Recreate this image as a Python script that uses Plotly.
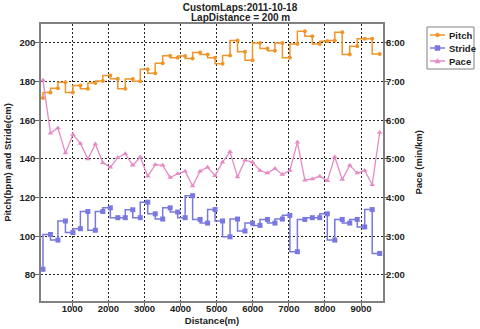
import plotly.graph_objects as go

# Lap end positions along the run (m)
distance_m = [188, 395, 602, 810, 1017, 1224, 1432, 1639, 1846, 2054,
              2261, 2468, 2676, 2883, 3090, 3298, 3505, 3712, 3920, 4127,
              4334, 4541, 4749, 4956, 5163, 5371, 5578, 5785, 5993, 6200,
              6407, 6615, 6822, 7029, 7237, 7444, 7651, 7858, 8066, 8273,
              8480, 8688, 8895, 9102, 9310, 9517]

# Cadence per lap (steps per minute)
pitch_bpm = [171.5, 174.3, 176.5, 179.7, 174.3, 178.0, 176.3, 179.3, 180.3, 183.2,
             181.5, 176.3, 181.4, 180.2, 186.4, 184.3, 189.5, 193.4, 192.3, 193.3,
             192.0, 195.0, 194.0, 192.3, 189.2, 193.5, 201.2, 195.4, 191.1, 200.0,
             197.1, 196.0, 200.0, 192.3, 199.5, 206.0, 203.4, 199.5, 200.9, 201.2,
             205.5, 194.0, 198.3, 202.2, 202.2, 194.3]

# Stride length per lap (cm)
stride_cm = [82.9, 100.9, 98.0, 107.9, 101.9, 103.9, 112.8, 103.1, 112.8, 114.7,
             109.6, 109.6, 113.7, 109.6, 117.6, 111.6, 108.9, 114.7, 112.5, 109.6,
             121.0, 108.7, 106.8, 113.8, 107.9, 99.7, 108.9, 102.7, 106.8, 105.6,
             108.7, 106.8, 108.9, 110.8, 92.0, 108.7, 109.6, 109.6, 111.6, 98.0,
             108.7, 106.8, 108.7, 104.8, 113.8, 91.1]

# Pace per lap (seconds per km)
pace_sec = [422, 340, 348, 309, 338, 324, 300, 323, 294, 287,
            302, 308, 290, 303, 273, 291, 290, 271, 277, 281,
            258, 281, 287, 274, 295, 311, 272, 298, 295, 282,
            278, 285, 276, 282, 326, 267, 269, 273, 266, 303,
            268, 290, 278, 282, 260, 341]

left_ticks = [80, 100, 120, 140, 160, 180, 200]
pace_ticks = [120, 180, 240, 300, 360, 420, 480]
pace_labels = ["2:00", "3:00", "4:00", "5:00", "6:00", "7:00", "8:00"]
x_ticks = [1000, 2000, 3000, 4000, 5000, 6000, 7000, 8000, 9000]

series_names = ["Pitch", "Stride", "Pace"]
series_colors = ["#F0952A", "#7878E0", "#E68AC6"]

FONT = "Liberation Sans"
W, H = 480, 329
ML, MR, MT, MB = 41, 97, 24, 28
PW, PH = W - ML - MR, H - MT - MB


def fx(px):
    """Pixel column -> paper x."""
    return (px - ML) / PW


def fy(py):
    """Pixel row -> paper y."""
    return 1 - (py - MT) / PH


# left range in bpm/cm; right range in s/km, aligned so 200 <-> 8:00 and 20 units <-> 1 min
left_range = [66.5, 209.8]
right_range = [480 - (200 - left_range[0]) * 3, 480 - (200 - left_range[1]) * 3]

fig = go.Figure()
fig.add_trace(go.Scatter(
    x=distance_m, y=pitch_bpm, name=series_names[0], mode="lines+markers",
    line=dict(color=series_colors[0], width=1.5, shape="vh"),
    marker=dict(symbol="circle", size=4, color=series_colors[0])))
fig.add_trace(go.Scatter(
    x=distance_m, y=stride_cm, name=series_names[1], mode="lines+markers",
    line=dict(color=series_colors[1], width=1.5, shape="vh"),
    marker=dict(symbol="square", size=5, color=series_colors[1])))
fig.add_trace(go.Scatter(
    x=distance_m, y=pace_sec, name=series_names[2], mode="lines+markers", yaxis="y2",
    line=dict(color=series_colors[2], width=1.3),
    marker=dict(symbol="triangle-up", size=5, color=series_colors[2])))

axis_font = dict(family=FONT, size=9.5, color="#222222", weight="bold")
title_font = dict(family=FONT, size=10, color="#222222", weight="bold")

annotations = [
    dict(text="LapDistance = 200 m", xref="paper", yref="paper",
         x=fx(W / 2), y=fy(17), xanchor="center", yanchor="middle",
         showarrow=False, font=title_font),
    dict(text="Pace (min/km)", xref="paper", yref="paper",
         x=fx(418), y=0.5, xanchor="center", yanchor="middle",
         textangle=-90, showarrow=False, font=axis_font),
]

# Compact legend box at the upper right
shapes = [dict(type="rect", xref="paper", yref="paper",
               x0=fx(427), x1=fx(474), y0=fy(27), y1=fy(69),
               line=dict(color="#808080", width=1), fillcolor="white", layer="above")]
for k, (name, col) in enumerate(zip(series_names, series_colors)):
    row = 35 + 13 * k
    shapes.append(dict(type="line", xref="paper", yref="paper",
                       x0=fx(430), x1=fx(445), y0=fy(row), y1=fy(row),
                       line=dict(color=col, width=1.5), layer="above"))
    key = dict(xref="paper", yref="paper", xsizemode="pixel", ysizemode="pixel",
               xanchor=fx(437.5), yanchor=fy(row), fillcolor=col,
               line=dict(color=col, width=0.5), layer="above")
    if name == "Pitch":
        key.update(type="circle", x0=-2, x1=2, y0=-2, y1=2)
    elif name == "Stride":
        key.update(type="rect", x0=-2.5, x1=2.5, y0=-2.5, y1=2.5)
    else:
        key.update(type="path", path="M -2.5 -2 L 2.5 -2 L 0 2.5 Z")
    shapes.append(key)
    annotations.append(dict(text=name, xref="paper", yref="paper",
                            x=fx(447), y=fy(row), xanchor="left", yanchor="middle",
                            showarrow=False, font=axis_font))

fig.update_layout(
    width=W, height=H,
    margin=dict(l=ML, r=MR, t=MT, b=MB, autoexpand=False),
    paper_bgcolor="white", plot_bgcolor="white",
    font=axis_font,
    showlegend=False,
    title=dict(text="CustomLaps:2011-10-18", x=0.5, xref="container", xanchor="center",
               y=1 - 7 / H, yref="container", yanchor="middle", font=title_font),
    annotations=annotations,
    shapes=shapes,
    xaxis=dict(range=[133, 9609], tickvals=x_ticks, ticks="outside", ticklen=4,
               tickcolor="#666666", showline=True, linecolor="#808080", linewidth=1.5,
               mirror=True, showgrid=True, gridcolor="#222222", griddash="2px,2px",
               gridwidth=1, zeroline=False, automargin=False, ticklabelstandoff=-6,
               title=dict(text="Distance(m)", standoff=4, font=axis_font)),
    yaxis=dict(range=left_range, tickvals=left_ticks, ticks="outside", ticklen=4,
               tickcolor="#666666", showline=True, linecolor="#808080", linewidth=1.5,
               mirror=True, showgrid=True, gridcolor="#222222", griddash="2px,2px",
               gridwidth=1, zeroline=False, automargin=False, ticklabelstandoff=-2,
               title=dict(text="Pitch(bpm) and Stride(cm)", standoff=6, font=axis_font)),
    yaxis2=dict(range=right_range, tickvals=pace_ticks, ticktext=pace_labels,
                overlaying="y", side="right", ticks="outside", ticklen=4,
                tickcolor="#666666", showgrid=False, zeroline=False, automargin=False,
                ticklabelstandoff=-4),
)

fig.write_html("out.html")
